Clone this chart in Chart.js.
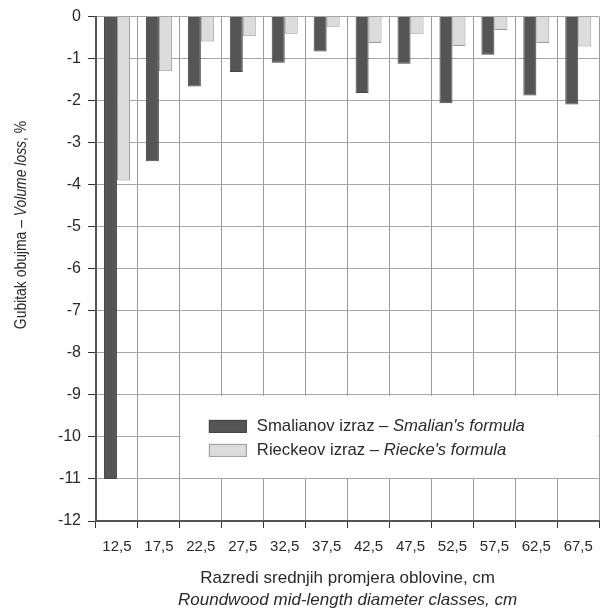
<!DOCTYPE html>
<html>
<head>
<meta charset="utf-8">
<script src="https://cdn.jsdelivr.net/npm/chart.js@4.4.1/dist/chart.umd.min.js"></script>
<style>
  html, body { margin: 0; padding: 0; background: #fff; }
  #wrap { width: 603px; height: 609px; position: relative; }
</style>
</head>
<body>
<div id="wrap"><canvas id="c" width="603" height="609"></canvas></div>
<script>
const categories = ["12,5","17,5","22,5","27,5","32,5","37,5","42,5","47,5","52,5","57,5","62,5","67,5"];
const smalianValues = [-11.0, -3.44, -1.66, -1.32, -1.10, -0.83, -1.82, -1.12, -2.06, -0.91, -1.88, -2.09];
const rieckeValues  = [-3.90, -1.30, -0.59, -0.47, -0.41, -0.24, -0.63, -0.41, -0.70, -0.32, -0.63, -0.71];
const yTickValues = [0,-1,-2,-3,-4,-5,-6,-7,-8,-9,-10,-11,-12];

const FONT = "'Liberation Sans', Arial, sans-serif";
const TEXT = '#2a2a2a';

function drawMixed(ctx, segs, x, y, size, align, sx) {
  sx = sx || 1;
  let total = 0;
  const widths = segs.map(s => {
    ctx.font = (s.i ? 'italic ' : '') + size + 'px ' + FONT;
    const w = ctx.measureText(s.t).width * sx; total += w; return w;
  });
  let cx = align === 'center' ? x - total / 2 : x;
  segs.forEach((s, k) => {
    ctx.font = (s.i ? 'italic ' : '') + size + 'px ' + FONT;
    ctx.textAlign = 'left';
    ctx.save();
    ctx.translate(cx, y);
    ctx.scale(sx, 1);
    ctx.fillText(s.t, 0, 0);
    ctx.restore();
    cx += widths[k];
  });
}

const textPlugin = {
  id: 'texts',
  beforeDatasetsDraw(chart) {
    const ctx = chart.ctx, xs = chart.scales.x, ys = chart.scales.y;
    const step = xs.getPixelForValue(1) - xs.getPixelForValue(0);
    const x0 = xs.getPixelForValue(2) - step / 2 + 1;
    const x1 = xs.getPixelForValue(11) + step / 2 - 1;
    const y0 = ys.getPixelForValue(-9) + 1;
    const y1 = ys.getPixelForValue(-11) - 1;
    ctx.save();
    ctx.fillStyle = '#fff';
    ctx.fillRect(x0, y0, x1 - x0, y1 - y0);
    ctx.restore();
  },
  afterDraw(chart) {
    const ctx = chart.ctx, xs = chart.scales.x, ys = chart.scales.y, ca = chart.chartArea;
    ctx.save();
    ctx.fillStyle = TEXT;
    ctx.textBaseline = 'middle';
    // legend
    const step = xs.getPixelForValue(1) - xs.getPixelForValue(0);
    const lx = xs.getPixelForValue(2) - step / 2 + 29;
    const ly1 = ys.getPixelForValue(-9.75);
    const ly2 = ys.getPixelForValue(-10.32);
    const items = [
      {fill: '#555555', stroke: '#444444', y: ly1, segs: [{t: 'Smalianov izraz – '}, {t: "Smalian's formula", i: true}]},
      {fill: '#dcdcdc', stroke: '#9a9a9a', y: ly2, segs: [{t: 'Rieckeov izraz – '}, {t: "Riecke's formula", i: true}]}
    ];
    items.forEach(it => {
      ctx.fillStyle = it.fill; ctx.strokeStyle = it.stroke; ctx.lineWidth = 1;
      ctx.fillRect(lx, it.y - 6.5, 38, 13);
      ctx.strokeRect(lx + 0.5, it.y - 6, 37, 12);
      ctx.fillStyle = TEXT;
      drawMixed(ctx, it.segs, lx + 48, it.y, 17, 'left', 0.98);
    });
    // x title
    const cx = (ca.left + ca.right) / 2;
    drawMixed(ctx, [{t: 'Razredi srednjih promjera oblovine, cm'}], cx, 578, 17, 'center');
    drawMixed(ctx, [{t: 'Roundwood mid-length diameter classes, cm', i: true}], cx, 600, 17, 'center');
    // y title
    ctx.save();
    ctx.translate(22, 225);
    ctx.rotate(-Math.PI / 2);
    drawMixed(ctx, [{t: 'Gubitak obujma – '}, {t: 'Volume loss', i: true}, {t: ', %'}], 0, 0, 16, 'center', 0.87);
    ctx.restore();
    ctx.restore();
  }
};

new Chart(document.getElementById('c'), {
  type: 'bar',
  data: {
    labels: categories,
    datasets: [
      {label: 'Smalianov izraz – Smalian\'s formula', data: smalianValues, backgroundColor: '#555555', borderColor: '#444444', borderWidth: 1},
      {label: 'Rieckeov izraz – Riecke\'s formula', data: rieckeValues, backgroundColor: '#dcdcdc', borderColor: '#9a9a9a', borderWidth: 1}
    ]
  },
  options: {
    responsive: false,
    animation: false,
    devicePixelRatio: 1,
    categoryPercentage: 0.62,
    barPercentage: 1.0,
    layout: {padding: {left: 0, right: 3, top: 15, bottom: 0}},
    plugins: {legend: {display: false}, tooltip: {enabled: false}},
    scales: {
      x: {
        grid: {offset: true, color: '#9c9c9c', lineWidth: 1, tickLength: 7, tickColor: '#333', drawTicks: true},
        border: {color: '#555', width: 2},
        ticks: {color: TEXT, font: {family: FONT, size: 15}, padding: 10, maxRotation: 0, autoSkip: false},
        afterFit(s) { s.height = 88; }
      },
      y: {
        min: -12, max: 0,
        afterBuildTicks(s) { s.ticks = yTickValues.map(v => ({value: v})); },
        grid: {color: '#a6a6a6', lineWidth: 1, tickLength: 8, tickColor: '#333'},
        border: {color: '#555', width: 2},
        ticks: {color: TEXT, font: {family: FONT, size: 16}, padding: 7, callback: v => String(v)},
        afterFit(s) { s.width = 96; }
      }
    }
  },
  plugins: [textPlugin]
});
</script>
</body>
</html>
